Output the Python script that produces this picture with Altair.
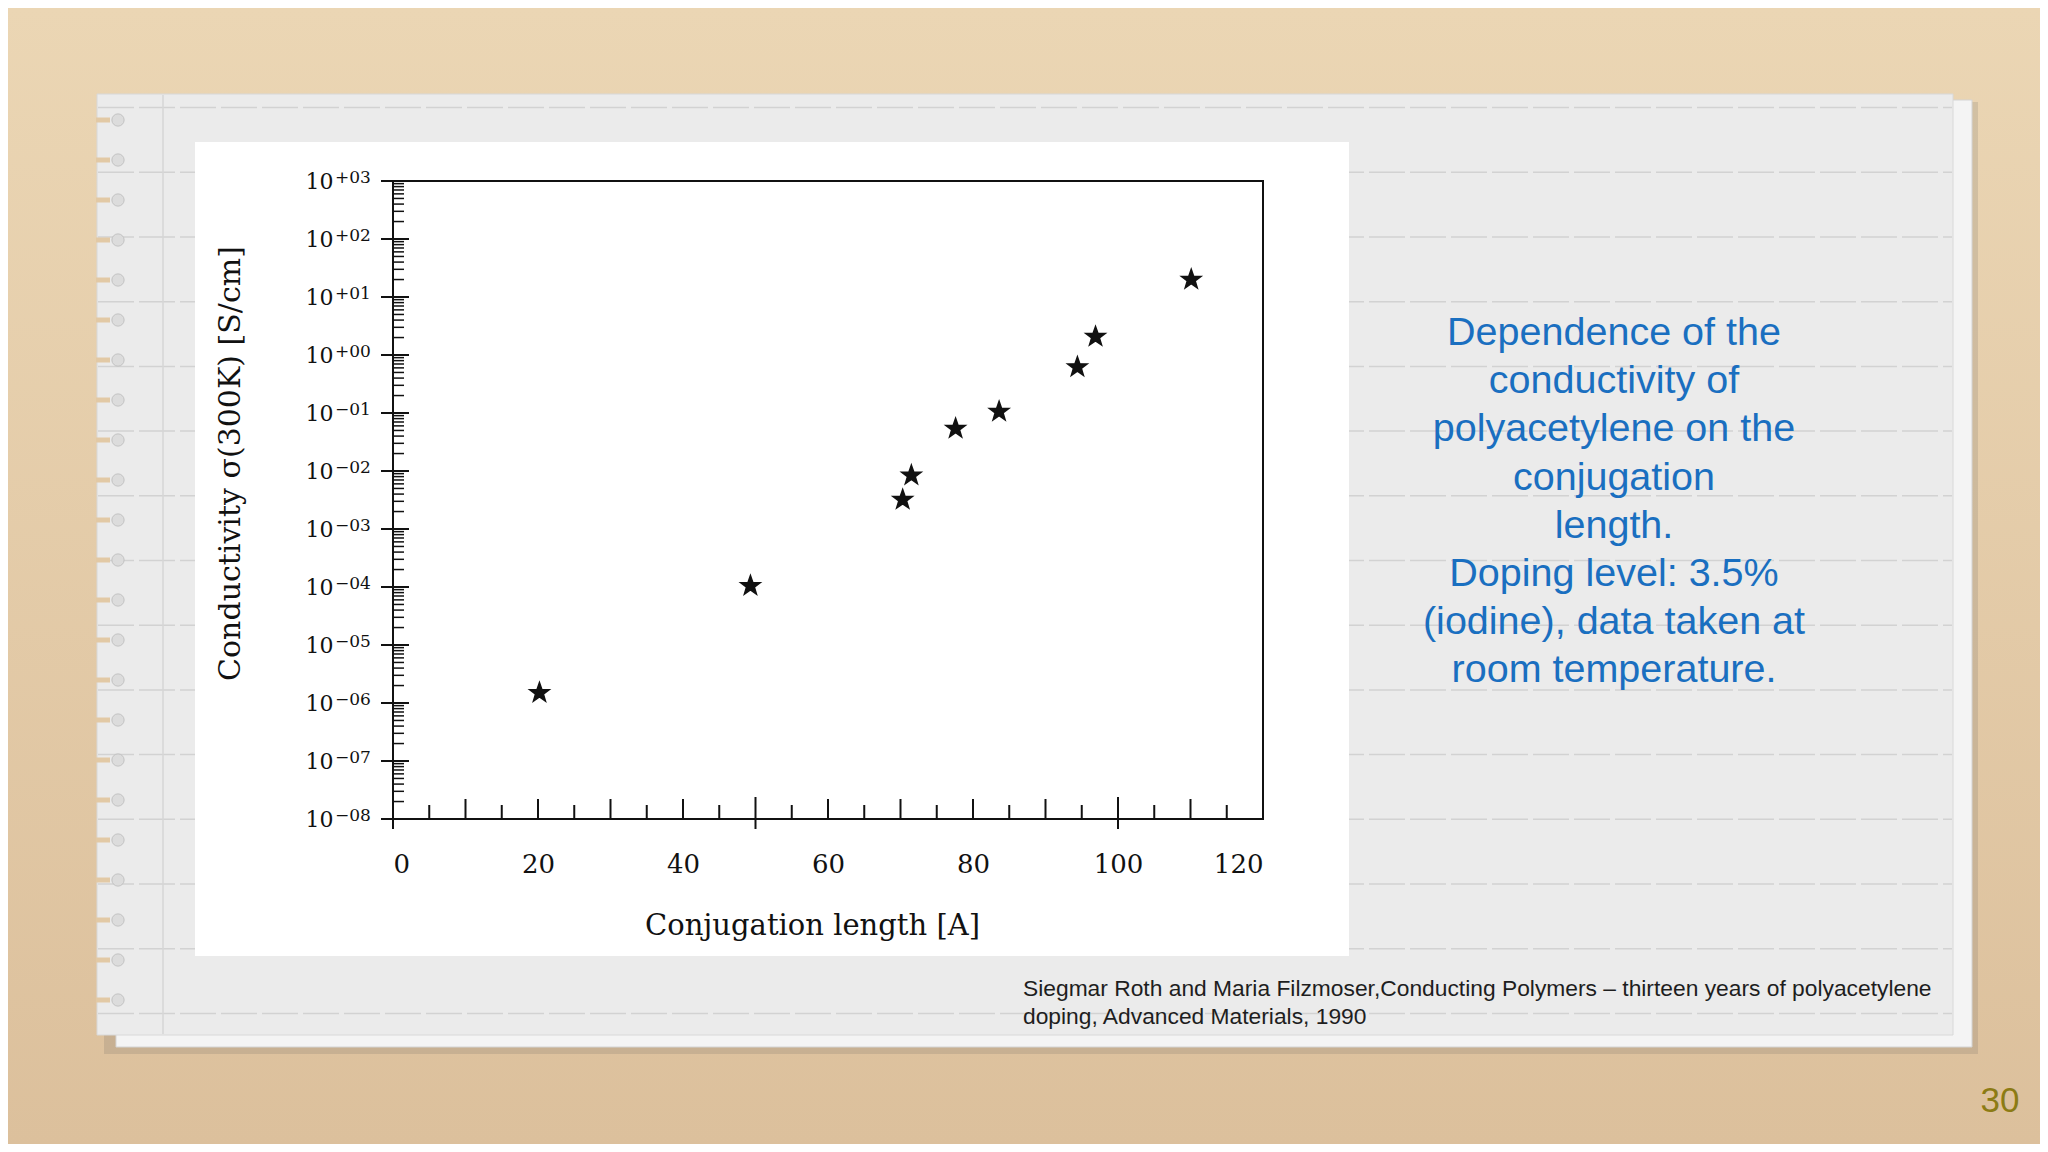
import altair as alt
import pandas as pd

# ---------------- data ----------------
conj_length = [20.2, 49.3, 70.3, 71.5, 77.6, 83.6, 94.4, 96.9, 110.1]
conductivity = [1.5e-6, 1.05e-4, 3.2e-3, 8.4e-3, 0.054, 0.106, 0.62, 2.07, 20.0]

x_label_values = [0, 20, 40, 60, 80, 100, 120]
x_major_ticks = [0, 50, 100]
x_mid_ticks = [10, 20, 30, 40, 60, 70, 80, 90, 110]
x_minor_ticks = [5, 15, 25, 35, 45, 55, 65, 75, 85, 95, 105, 115]
y_decades = [3, 2, 1, 0, -1, -2, -3, -4, -5, -6, -7, -8]
y_minor_mult = [2, 3, 4, 5, 6, 7, 8, 9]

x_title = "Conjugation length [A]"
y_title = "Conductivity \u03c3(300K) [S/cm]"
side_text = [
    "Dependence of the",
    "conductivity of",
    "polyacetylene on the",
    "conjugation",
    "length.",
    "Doping level: 3.5%",
    "(iodine), data taken at",
    "room temperature.",
]
citation = [
    "Siegmar Roth and Maria Filzmoser,Conducting Polymers \u2013 thirteen years of polyacetylene",
    "doping, Advanced Materials, 1990",
]
page_number = "30"

# ---------------- layout ----------------
W, H = 870, 638          # plot area
OX, OY = 393, 181        # page position of plot origin
PAD_L, PAD_T = OX - 8, OY - 8
PAD_R = 2032 - PAD_L - W
PAD_B = 1136 - PAD_T - H


def px(v):
    return v - OX


def py(v):
    return v - OY


STAR = ("M0,-1 L0.235,-0.324 L0.951,-0.309 L0.38,0.124 L0.588,0.809 "
        "L0,0.4 L-0.588,0.809 L-0.38,0.124 L-0.951,-0.309 L-0.235,-0.324 Z")

xs = alt.Scale(domain=[0, 120], nice=False, zero=False)
ys = alt.Scale(type="log", domain=[1e-8, 1e3], nice=False)

X_AXIS = alt.Axis(
    values=x_label_values, title=x_title, grid=False, domain=False, ticks=False, tickSize=0,
    labelFont="DejaVu Serif", labelFontSize=26, labelColor="#111111", labelPadding=32,
    titleFont="DejaVu Serif", titleFontSize=29, titleFontWeight="normal", titleColor="#111111",
    titleX=419, titleY=106, titleBaseline="middle", titleAlign="center", zindex=1)
Y_AXIS = alt.Axis(
    values=[10.0 ** d for d in y_decades], labelExpr="'10'", title=y_title, grid=False,
    domain=False, ticks=False, tickSize=0,
    labelFont="DejaVu Serif", labelFontSize=22, labelColor="#111111", labelPadding=60,
    titleFont="DejaVu Serif", titleFontSize=30, titleFontWeight="normal", titleColor="#111111",
    titleX=-163, titleY=282, titleBaseline="middle", titleAlign="center", zindex=1)

one = pd.DataFrame({"a": [0]})
pts = pd.DataFrame({"conj": conj_length, "sigma": conductivity})
dec_df = pd.DataFrame({
    "sigma": [10.0 ** d for d in y_decades],
    "e": [("+" if d >= 0 else "\u2212") + f"{abs(d):02d}" for d in y_decades],
})
ymin_df = pd.DataFrame({"sigma": [m * 10.0 ** d for d in y_decades if d < 3 for m in y_minor_mult]})


def box(x1, y1, x2, y2, **kw):
    return alt.Chart(one).mark_rect(**kw).encode(
        x=alt.value(px(x1)), x2=alt.value(px(x2)),
        y=alt.value(py(y1)), y2=alt.value(py(y2)))


def YF():
    return alt.Y("sigma:Q", scale=ys, axis=Y_AXIS)


def XF():
    return alt.X("conj:Q", scale=xs, axis=X_AXIS)


layers = []

# background wood
layers.append(box(8, 8, 2040, 1144, color=alt.Gradient(
    gradient="linear",
    stops=[alt.GradientStop(color="#ebd6b4", offset=0),
           alt.GradientStop(color="#dcc09c", offset=1)],
    x1=0, x2=0, y1=0, y2=1)))

# paper sheets
layers.append(box(104, 102, 1978, 1054, color="#5a5a5a", opacity=0.16))
layers.append(box(116, 100, 1972, 1047, color="#f4f4f4", stroke="#d4d4d4", strokeWidth=1))
layers.append(box(97, 94, 1953, 1035, color="#ebebeb", stroke="#d8d8d8", strokeWidth=1))

# ruled lines
for k in range(-2, 13):
    ry = 237 + 64.7 * k
    layers.append(alt.Chart(one).mark_rule(color="#d2d2d2", strokeWidth=1.5,
                                            strokeDash=[36, 5]).encode(
        x=alt.value(px(98)), x2=alt.value(px(1952)), y=alt.value(py(ry))))

# margin line
layers.append(alt.Chart(one).mark_rule(color="#d6d6d6", strokeWidth=1.5).encode(
    x=alt.value(px(163)), y=alt.value(py(95)), y2=alt.value(py(1034))))

# spiral holes (torn edge)
for k in range(0, 23):
    hy = 120 + 40 * k
    layers.append(alt.Chart(one).mark_rule(color="#e2c9a5", strokeWidth=5).encode(
        x=alt.value(px(96)), x2=alt.value(px(110)), y=alt.value(py(hy))))
    layers.append(alt.Chart(one).mark_point(shape="circle", filled=True, size=150,
                                             color="#dcdcdc", stroke="#c2c2c2",
                                             strokeWidth=1, opacity=1).encode(
        x=alt.value(px(118)), y=alt.value(py(hy))))

# white panel with the scanned chart
layers.append(box(195, 142, 1349, 956, color="#ffffff"))

# plot frame
layers.append(alt.Chart(one).mark_rect(fillOpacity=0, stroke="#111111", strokeWidth=2).encode(
    x=alt.value(0), x2=alt.value(W), y=alt.value(0), y2=alt.value(H)))

# y ticks
layers.append(alt.Chart(dec_df).mark_rule(color="#111111", strokeWidth=2).encode(
    y=YF(), x=alt.value(-12), x2=alt.value(16)))
layers.append(alt.Chart(ymin_df).mark_rule(color="#111111", strokeWidth=1.5).encode(
    y=YF(), x=alt.value(0), x2=alt.value(11)))

# x ticks
layers.append(alt.Chart(pd.DataFrame({"conj": x_major_ticks})).mark_rule(color="#111111", strokeWidth=2).encode(
    x=XF(), y=alt.value(H + 10), y2=alt.value(H - 22)))
layers.append(alt.Chart(pd.DataFrame({"conj": x_mid_ticks})).mark_rule(color="#111111", strokeWidth=2).encode(
    x=XF(), y=alt.value(H), y2=alt.value(H - 20)))
layers.append(alt.Chart(pd.DataFrame({"conj": x_minor_ticks})).mark_rule(color="#111111", strokeWidth=2).encode(
    x=XF(), y=alt.value(H), y2=alt.value(H - 14)))

# exponents of the y labels
layers.append(alt.Chart(dec_df).mark_text(align="left", baseline="alphabetic", dy=2,
                                          font="DejaVu Serif", fontSize=17, color="#111111").encode(
    y=YF(), x=alt.value(-58), text="e:N"))

# data stars
layers.append(alt.Chart(pts).mark_point(shape=STAR, filled=True, size=420, color="#111111",
                                         stroke="#111111", strokeWidth=1.5, opacity=1).encode(
    x=XF(), y=YF()))

# side description
layers.append(alt.Chart(one).mark_text(font="Liberation Sans", fontSize=39.5, color="#1a6fc0",
                                       lineHeight=48.2, align="center", baseline="middle").encode(
    x=alt.value(px(1614)), y=alt.value(py(333)), text=alt.value(side_text)))

# citation
layers.append(alt.Chart(one).mark_text(font="Liberation Sans", fontSize=22.8, color="#1e1e1e",
                                       lineHeight=27.5, align="left", baseline="middle").encode(
    x=alt.value(px(1023)), y=alt.value(py(989)), text=alt.value(citation)))

# page number
layers.append(alt.Chart(one).mark_text(font="Liberation Sans", fontSize=35, color="#8c7b14",
                                       align="center", baseline="middle").encode(
    x=alt.value(px(2000)), y=alt.value(py(1101)), text=alt.value(page_number)))

chart = alt.layer(*layers).properties(
    width=W, height=H,
    padding={"left": PAD_L, "top": PAD_T, "right": PAD_R, "bottom": PAD_B},
    autosize=alt.AutoSizeParams(type="none"),
    background="#e6cfab",
).configure_view(stroke=None)

chart.save("out.html", embed_options={"renderer": "svg", "actions": False})
